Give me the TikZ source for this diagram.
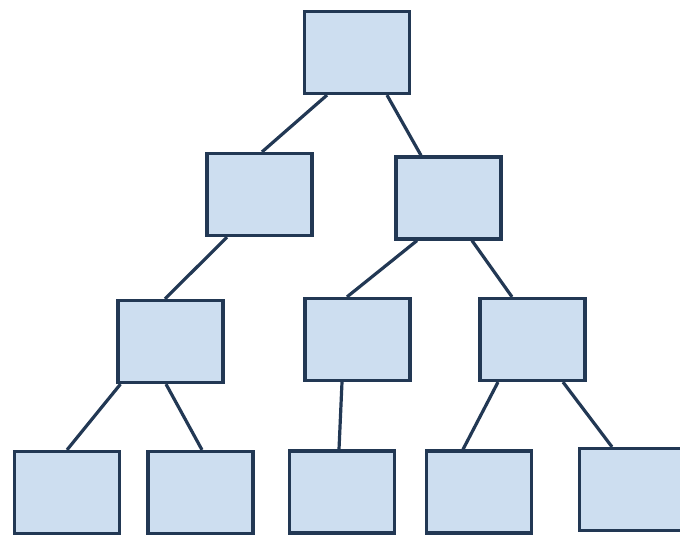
\documentclass[tikz,border=0pt]{standalone}
\usepackage{xcolor}
\definecolor{treefill}{RGB}{205,222,240}
\definecolor{treeline}{RGB}{34,56,84}
\usepackage{tikz}
\usetikzlibrary{positioning}
\tikzset{
  tbox/.style={draw=treeline,fill=treefill,line width=3.2pt,minimum width=105pt,minimum height=82pt,inner sep=0pt},
  link/.style={draw=treeline,line width=3.2pt},
}
\begin{document}
\begin{tikzpicture}[x=1pt,y=-1pt]
\clip (0,0) rectangle (680,538);
\node[tbox] (root) at (357,52.5) {};
\node[tbox] (midl) at (259.5,194.5) {};
\node[tbox] (midr) at (448.5,198) {};
\node[tbox] (lowa) at (170.5,341.5) {};
\node[tbox] (lowb) at (357.5,339.5) {};
\node[tbox] (lowc) at (532.5,339.5) {};
\node[tbox] (leafa) at (67,492.5) {};
\node[tbox] (leafb) at (200.5,492.5) {};
\node[tbox] (leafc) at (342,492) {};
\node[tbox] (leafd) at (479,492) {};
\node[tbox] (leafe) at (632,489.5) {};
\draw[link] ([xshift=-30pt]root.south) -- ([xshift=2.5pt]midl.north);
\draw[link] ([xshift=30pt]root.south) -- ([xshift=-27.5pt]midr.north);
\draw[link] ([xshift=-32.5pt]midl.south) -- ([xshift=-5.5pt]lowa.north);
\draw[link] ([xshift=-31.5pt]midr.south) -- ([xshift=-10.5pt]lowb.north);
\draw[link] ([xshift=23.5pt]midr.south) -- ([xshift=-20.5pt]lowc.north);
\draw[link] ([xshift=-50pt]lowa.south) -- (leafa.north);
\draw[link] ([xshift=-4.5pt]lowa.south) -- ([xshift=1.5pt]leafb.north);
\draw[link] ([xshift=-15.5pt]lowb.south) -- ([xshift=-3pt]leafc.north);
\draw[link] ([xshift=-34.5pt]lowc.south) -- ([xshift=-16pt]leafd.north);
\draw[link] ([xshift=30.5pt]lowc.south) -- ([xshift=-20pt]leafe.north);
\end{tikzpicture}
\end{document}
